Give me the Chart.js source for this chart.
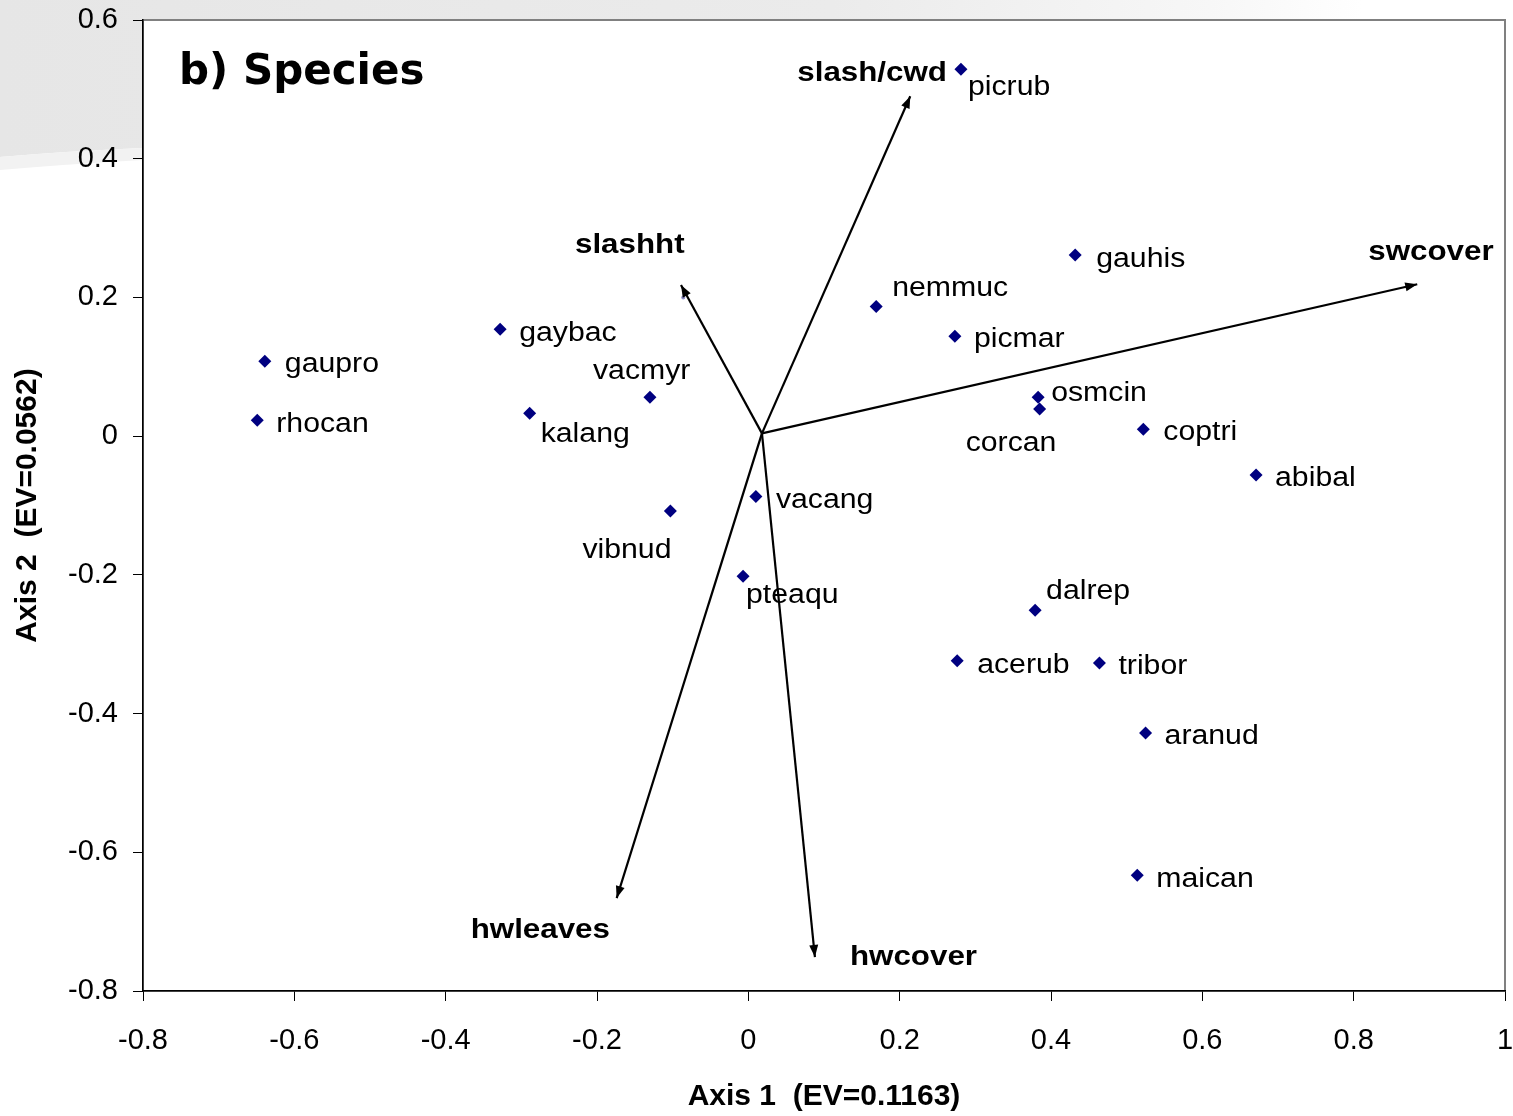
<!DOCTYPE html>
<html>
<head>
<meta charset="utf-8">
<script src="https://cdn.jsdelivr.net/npm/chart.js@4.4.1/dist/chart.umd.min.js"></script>
<style>
  html, body { margin: 0; padding: 0; background: #ffffff; }
  canvas { display: block; }
</style>
</head>
<body>
<canvas id="ord" width="1513" height="1116"></canvas>
<script>
// Species scores on the first two ordination axes
const speciesNames = ['picrub','gauhis','nemmuc','picmar','gaybac','gaupro','rhocan','kalang','vacmyr','osmcin','corcan','coptri','abibal','vacang','vibnud','pteaqu','dalrep','acerub','tribor','aranud','maican'];
const axis1Scores = [0.281, 0.432, 0.169, 0.273, -0.328, -0.639, -0.649, -0.289, -0.130, 0.383, 0.385, 0.522, 0.671, 0.010, -0.103, -0.007, 0.379, 0.276, 0.464, 0.525, 0.514];
const axis2Scores = [0.529, 0.261, 0.187, 0.144, 0.154, 0.108, 0.023, 0.033, 0.056, 0.056, 0.039, 0.010, -0.056, -0.087, -0.108, -0.202, -0.251, -0.324, -0.327, -0.428, -0.633];

// Unlabelled score sitting under the slashht arrow head
const minorAxis1 = [-0.086];
const minorAxis2 = [0.200];

// Environmental vectors (biplot arrows) drawn from a common origin
const vectorNames = ['slash/cwd', 'slashht', 'swcover', 'hwleaves', 'hwcover'];
const vectorOrigin = { x: 0.018, y: 0.004 };
const vectorAxis1 = [0.214, -0.089, 0.884, -0.174, 0.088];
const vectorAxis2 = [0.490, 0.218, 0.219, -0.666, -0.751];

// Axis ticks
const xTickLabels = ['-0.8', '-0.6', '-0.4', '-0.2', '0', '0.2', '0.4', '0.6', '0.8', '1'];
const yTickLabels = ['-0.8', '-0.6', '-0.4', '-0.2', '0', '0.2', '0.4', '0.6'];

// Label placement (pixel offsets from the mark: left edge, baseline)
const speciesLabelOffset = [
  [7, 26], [21, 12], [16, -10], [19, 11], [19, 12], [20, 11], [19, 12], [11, 29], [-57, -18],
  [13, 4], [-74, 42], [20, 11], [19, 11], [20, 12], [-88, 47], [3, 27], [11, -11], [20, 12],
  [19, 11], [19, 11], [19, 12]
];
const vectorLabelOffset = [[-113, -15], [-106, -32], [-49, -24], [-146, 40], [35, 8]];

const speciesPoints = speciesNames.map((n, i) => ({ x: axis1Scores[i], y: axis2Scores[i] }));
const minorPoints = minorAxis1.map((v, i) => ({ x: v, y: minorAxis2[i] }));

const vectorDatasets = vectorNames.map((name, i) => ({
  label: name,
  type: 'line',
  data: [ { x: vectorOrigin.x, y: vectorOrigin.y }, { x: vectorAxis1[i], y: vectorAxis2[i] } ],
  borderColor: '#000000',
  borderWidth: 2.2,
  pointRadius: 0,
  fill: false,
  tension: 0,
  isVector: true
}));

const FONT_FAMILY = '"Liberation Sans", Arial, Helvetica, sans-serif';
const TEXT_STRETCH = 1.12;

// Write text widened horizontally, keeping its left edge at x
function wideText(ctx, text, x, y, font, stretch) {
  ctx.save();
  ctx.font = font;
  ctx.textAlign = 'left';
  ctx.textBaseline = 'alphabetic';
  ctx.translate(x, y);
  ctx.scale(stretch, 1);
  ctx.fillText(text, 0, 0);
  ctx.restore();
}

// Grey swoosh behind the plot and white plot area with grey frame
const backdropPlugin = {
  id: 'backdrop',
  beforeDraw(chart) {
    const { ctx, chartArea: a, width } = chart;
    ctx.save();
    const g = ctx.createLinearGradient(0, 0, width, 0);
    g.addColorStop(0, '#e6e6e6');
    g.addColorStop(0.55, '#ebebeb');
    g.addColorStop(0.8, '#f7f7f7');
    g.addColorStop(0.9, '#ffffff');
    ctx.fillStyle = g;
    ctx.beginPath();
    ctx.moveTo(0, 0);
    ctx.lineTo(width, 0);
    ctx.lineTo(width, a.top);
    ctx.lineTo(a.left, a.top);
    ctx.lineTo(a.left, 148);
    ctx.quadraticCurveTo(70, 151, 0, 157);
    ctx.closePath();
    ctx.fill();
    ctx.fillStyle = '#f2f2f2';
    ctx.beginPath();
    ctx.moveTo(0, 157);
    ctx.quadraticCurveTo(70, 151, a.left, 148);
    ctx.lineTo(a.left, 160);
    ctx.quadraticCurveTo(70, 164, 0, 170);
    ctx.closePath();
    ctx.fill();
    ctx.fillStyle = '#ffffff';
    ctx.fillRect(a.left, a.top, a.right - a.left, a.bottom - a.top);
    ctx.strokeStyle = '#808080';
    ctx.lineWidth = 2;
    ctx.strokeRect(a.left, a.top, a.right - a.left, a.bottom - a.top);
    ctx.restore();
  }
};

// Arrow heads, point labels, vector labels and panel title
const annotatePlugin = {
  id: 'annotate',
  afterDatasetsDraw(chart) {
    const { ctx } = chart;
    ctx.save();
    ctx.fillStyle = '#000000';
    chart.data.datasets.forEach((ds, di) => {
      if (!ds.isVector) return;
      const pts = chart.getDatasetMeta(di).data;
      const p0 = pts[0], p1 = pts[1];
      const ang = Math.atan2(p1.y - p0.y, p1.x - p0.x);
      const len = 12, half = 4.5;
      ctx.beginPath();
      ctx.moveTo(p1.x, p1.y);
      ctx.lineTo(p1.x - len * Math.cos(ang) + half * Math.sin(ang), p1.y - len * Math.sin(ang) - half * Math.cos(ang));
      ctx.lineTo(p1.x - len * Math.cos(ang) - half * Math.sin(ang), p1.y - len * Math.sin(ang) + half * Math.cos(ang));
      ctx.closePath();
      ctx.fill();
      const off = vectorLabelOffset[vectorNames.indexOf(ds.label)];
      wideText(ctx, ds.label, p1.x + off[0], p1.y + off[1], 'bold 27px ' + FONT_FAMILY, 1.16);
    });

    const meta = chart.getDatasetMeta(0);
    meta.data.forEach((pt, i) => {
      const off = speciesLabelOffset[i];
      wideText(ctx, speciesNames[i], pt.x + off[0], pt.y + off[1], '27px ' + FONT_FAMILY, TEXT_STRETCH);
    });

    ctx.font = 'bold 42px "DejaVu Sans", Verdana, sans-serif';
    ctx.textAlign = 'left';
    ctx.textBaseline = 'alphabetic';
    ctx.fillText('b) Species', 179, 84);
    ctx.restore();
  }
};

new Chart(document.getElementById('ord'), {
  type: 'scatter',
  data: {
    datasets: [
      {
        label: 'species',
        data: speciesPoints,
        pointStyle: 'rectRot',
        pointRadius: 6.5,
        backgroundColor: '#000080',
        borderColor: '#000080',
        borderWidth: 0
      },
      {
        label: 'minor',
        data: minorPoints,
        pointStyle: 'circle',
        pointRadius: 2,
        backgroundColor: '#8a8ac4',
        borderWidth: 0
      },
      ...vectorDatasets
    ]
  },
  options: {
    responsive: false,
    animation: false,
    devicePixelRatio: 1,
    layout: { padding: { top: 20, right: 8, left: 0, bottom: 0 } },
    plugins: { legend: { display: false }, tooltip: { enabled: false } },
    scales: {
      x: {
        type: 'linear',
        min: -0.8, max: 1,
        afterFit(s) { s.height = 125; s.paddingLeft = 0; s.paddingRight = 0; },
        afterBuildTicks(s) { s.ticks = xTickLabels.map(t => ({ value: parseFloat(t) })); },
        ticks: {
          callback: (v, i) => xTickLabels[i],
          font: { family: FONT_FAMILY, size: 29 },
          color: '#000000',
          padding: 23,
          maxRotation: 0,
          autoSkip: false
        },
        grid: { drawOnChartArea: false, tickLength: 10, color: '#000000', tickWidth: 1 },
        border: { color: '#000000', width: 1.5 },
        title: {
          display: true,
          text: 'Axis 1  (EV=0.1163)',
          color: '#000000',
          font: { family: FONT_FAMILY, size: 30, weight: 'bold', lineHeight: 1 },
          padding: { top: 0, bottom: 4 }
        }
      },
      y: {
        type: 'linear',
        min: -0.8, max: 0.6,
        afterFit(s) { s.width = 143; s.paddingTop = 0; s.paddingBottom = 0; },
        afterBuildTicks(s) { s.ticks = yTickLabels.map(t => ({ value: parseFloat(t) })); },
        ticks: {
          callback: (v, i) => yTickLabels[i],
          font: { family: FONT_FAMILY, size: 29 },
          color: '#000000',
          padding: 15,
          autoSkip: false
        },
        grid: { drawOnChartArea: false, tickLength: 10, color: '#000000', tickWidth: 1 },
        border: { color: '#000000', width: 1.5 },
        title: {
          display: true,
          text: 'Axis 2  (EV=0.0562)',
          color: '#000000',
          font: { family: FONT_FAMILY, size: 30, weight: 'bold', lineHeight: 1 },
          padding: { top: 13, bottom: 0 }
        }
      }
    }
  },
  plugins: [backdropPlugin, annotatePlugin]
});
</script>
</body>
</html>
